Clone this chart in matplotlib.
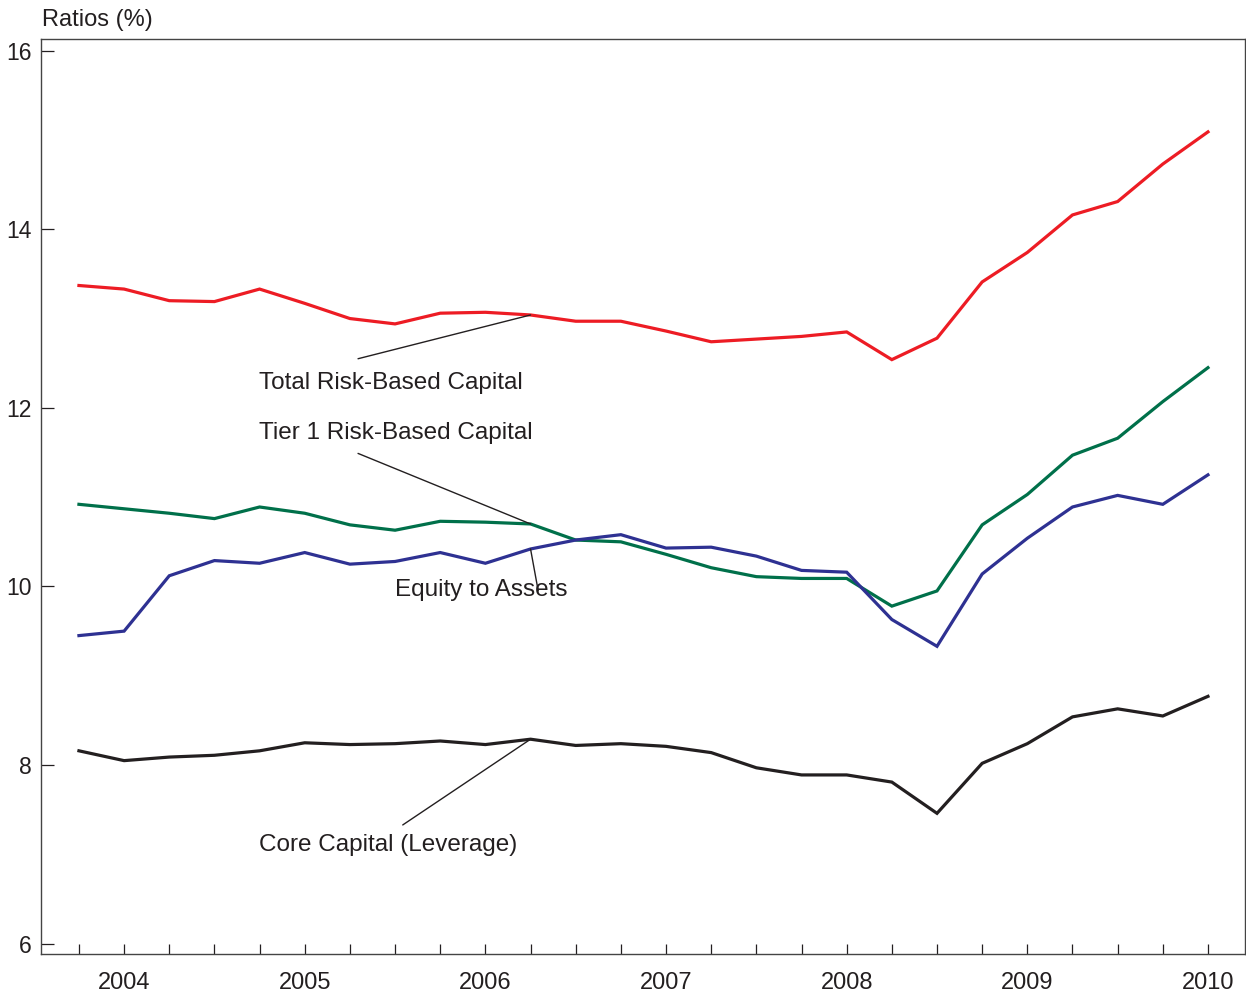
import matplotlib
matplotlib.use("Agg")
import matplotlib.pyplot as plt
import numpy as np

plt.rcParams['font.family'] = ['Liberation Sans', 'DejaVu Sans']

# Quarterly data, 2003Q4 .. 2010Q1
quarters = list(range(26))
total_rbc = [13.37, 13.33, 13.20, 13.19, 13.33, 13.17, 13.00, 12.94, 13.06, 13.07,
             13.04, 12.97, 12.97, 12.86, 12.74, 12.77, 12.80, 12.85, 12.54, 12.78,
             13.41, 13.74, 14.16, 14.31, 14.73, 15.09]
tier1_rbc = [10.92, 10.87, 10.82, 10.76, 10.89, 10.82, 10.69, 10.63, 10.73, 10.72,
             10.70, 10.52, 10.50, 10.36, 10.21, 10.11, 10.09, 10.09, 9.78, 9.95,
             10.69, 11.03, 11.47, 11.66, 12.07, 12.45]
equity_assets = [9.45, 9.50, 10.12, 10.29, 10.26, 10.38, 10.25, 10.28, 10.38, 10.26,
                 10.42, 10.52, 10.58, 10.43, 10.44, 10.34, 10.18, 10.16, 9.63, 9.33,
                 10.14, 10.54, 10.89, 11.02, 10.92, 11.25]
core_capital = [8.16, 8.05, 8.09, 8.11, 8.16, 8.25, 8.23, 8.24, 8.27, 8.23,
                8.29, 8.22, 8.24, 8.21, 8.14, 7.97, 7.89, 7.89, 7.81, 7.46,
                8.02, 8.24, 8.54, 8.63, 8.55, 8.77]
year_labels = ['2004', '2005', '2006', '2007', '2008', '2009', '2010']
year_label_pos = [1, 5, 9, 13, 17, 21, 25]
year_sep_pos = [3, 7, 11, 15, 19, 23]
yticks = [6, 8, 10, 12, 14, 16]

RED = '#ED1C24'
GREEN = '#00704A'
BLUE = '#2E3192'
BLACK = '#231F20'
TXT = '#231F20'

fig = plt.figure(figsize=(12.46, 9.97), dpi=100)
ax = fig.add_axes([41/1246, 1-954/997, (1245-41)/1246, (954-39)/997])

lw = 2.3
ax.plot(quarters, total_rbc, color=RED, lw=lw, solid_joinstyle='miter')
ax.plot(quarters, tier1_rbc, color=GREEN, lw=lw, solid_joinstyle='miter')
ax.plot(quarters, equity_assets, color=BLUE, lw=lw, solid_joinstyle='miter')
ax.plot(quarters, core_capital, color=BLACK, lw=lw, solid_joinstyle='miter')

ax.set_xlim(-0.84, 25.82)
ax.set_ylim(5.885, 16.13)

# ticks
ax.set_yticks(yticks)
ax.set_yticklabels([str(v) for v in yticks], fontsize=16.5, color=TXT)
ax.tick_params(axis='y', direction='in', length=9.5, width=0.9, color=TXT, pad=7)

ax.set_xticks(quarters)
labels = []
for q in quarters:
    labels.append(year_labels[year_label_pos.index(q)] if q in year_label_pos else '')
ax.set_xticklabels(labels, fontsize=17, color=TXT)
ax.tick_params(axis='x', which='major', direction='in', length=7.5, width=0.9, color=TXT, pad=13)
ax.set_xticks(year_sep_pos, minor=True)
ax.tick_params(axis='x', which='minor', direction='in', length=13.5, width=0.9, color=TXT)

for s in ax.spines.values():
    s.set_linewidth(1.0)
    s.set_color('#444444')

fig.text(42/1246, 1-20/997, 'Ratios (%)', fontsize=17, color=TXT, ha='left', va='center')

# annotations
fs = 17.5
ax.text(3.99, 12.28, 'Total Risk-Based Capital', fontsize=fs, color=TXT, va='center', ha='left')
ax.annotate('', xy=(10, total_rbc[10]), xytext=(6.18, 12.55),
            arrowprops=dict(arrowstyle='-', lw=1.0, color=TXT, shrinkA=0, shrinkB=0))
ax.text(3.99, 11.72, 'Tier 1 Risk-Based Capital', fontsize=fs, color=TXT, va='center', ha='left')
ax.annotate('', xy=(10, tier1_rbc[10]), xytext=(6.18, 11.49),
            arrowprops=dict(arrowstyle='-', lw=1.0, color=TXT, shrinkA=0, shrinkB=0))
ax.text(7.0, 9.96, 'Equity to Assets', fontsize=fs, color=TXT, va='center', ha='left')
ax.annotate('', xy=(10, equity_assets[10]), xytext=(10.17, 9.95),
            arrowprops=dict(arrowstyle='-', lw=1.0, color=TXT, shrinkA=0, shrinkB=0))
ax.text(3.99, 7.11, 'Core Capital (Leverage)', fontsize=fs, color=TXT, va='center', ha='left')
ax.annotate('', xy=(10, core_capital[10]), xytext=(7.17, 7.33),
            arrowprops=dict(arrowstyle='-', lw=1.0, color=TXT, shrinkA=0, shrinkB=0))

fig.savefig('out.png', dpi=100)
